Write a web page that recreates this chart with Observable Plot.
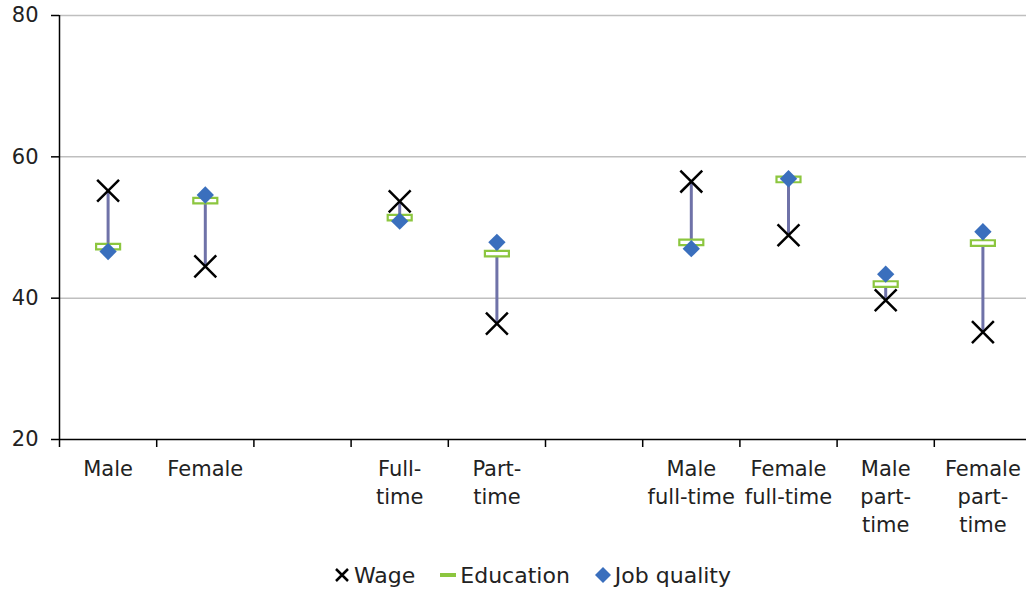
<!DOCTYPE html>
<html>
<head>
<meta charset="utf-8">
<script src="https://cdn.jsdelivr.net/npm/d3@7"></script>
<script src="https://cdn.jsdelivr.net/npm/@observablehq/plot@0.6"></script>
<style>
  html, body { margin: 0; padding: 0; background: #fff; overflow: hidden; }
  body { width: 1026px; font-family: "DejaVu Sans", Verdana, sans-serif; }
  #chart { width: 1026px; overflow: hidden; }
  #chart svg { display: block; max-width: none !important; width: 1031px; height: 555px; }
  #legend { display: flex; justify-content: center; align-items: center; gap: 24px; font-size: 22px; color: #222; height: 40px; margin-left: 38px; }
  #legend .item { display: flex; align-items: center; gap: 3px; }
  #legend svg { display: block; }
</style>
</head>
<body>
<div id="chart"></div>
<div id="legend"></div>
<script>
const categories = ["Male", "Female", "gap1", "Full-time", "Part-time", "gap2", "Male full-time", "Female full-time", "Male part-time", "Female part-time"];
const tickLabels = ["Male", "Female", "", "Full-\ntime", "Part-\ntime", "", "Male\nfull-time", "Female\nfull-time", "Male\npart-\ntime", "Female\npart-\ntime"];
const wage       = [55.2, 44.5, null, 53.7, 36.4, null, 56.5, 48.9, 39.7, 35.2];
const education  = [47.3, 53.8, null, 51.4, 46.3, null, 47.9, 56.8, 42.0, 47.8];
const jobQuality = [46.6, 54.6, null, 50.9, 47.9, null, 47.0, 56.9, 43.4, 49.4];
const yTicks = [20, 40, 60, 80];

const rows = categories.map((c, i) => ({
  category: c,
  pos: i + 0.5,
  wage: wage[i],
  education: education[i],
  jobQuality: jobQuality[i]
})).filter(d => d.wage != null);
rows.forEach(d => {
  d.lo = Math.min(d.wage, d.education, d.jobQuality);
  d.hi = Math.max(d.wage, d.education, d.jobQuality);
});

const colors = { wage: "#000000", education: "#8cc63f", job: "#3a6fbd", range: "#6f72a8", grid: "#bfbfbf" };

// hollow flat bar symbol for Education
const barSymbol = {
  draw(context, size) {
    const w = 12, h = 2.8;
    context.moveTo(-w, -h);
    context.lineTo(w, -h);
    context.lineTo(w, h);
    context.lineTo(-w, h);
    context.closePath();
  }
};

const centers = categories.map((c, i) => i + 0.5);
const bounds = d3.range(0, categories.length + 1);

const chart = Plot.plot({
  width: 1031,
  height: 555,
  marginLeft: 59,
  marginRight: 0,
  marginTop: 15,
  marginBottom: 116,
  style: { fontFamily: "DejaVu Sans, Verdana, sans-serif", fontSize: "21px", color: "#222" },
  x: { type: "linear", domain: [0, categories.length] },
  y: { domain: [20, 80] },
  marks: [
    Plot.gridY({ ticks: [40, 60, 80], stroke: colors.grid, strokeOpacity: 1, strokeWidth: 1.5 }),
    Plot.ruleX([0], { y1: 20, y2: 80, stroke: "#000", strokeWidth: 1.5 }),
    Plot.ruleY([20], { stroke: "#000", strokeWidth: 1.5 }),
    Plot.axisY({ ticks: yTicks, tickSize: 8, tickPadding: 13, fontSize: 21, stroke: "#000", strokeWidth: 1.5, label: null, fill: "#222" }),
    Plot.axisX({ ticks: bounds, tickSize: 8, tickFormat: () => "", stroke: "#000", strokeWidth: 1.5, label: null }),
    Plot.axisX({ ticks: centers, tickSize: 0, tickPadding: 17, tickFormat: v => tickLabels[Math.floor(v)], fontSize: 21, lineHeight: 1.33, label: null, fill: "#222" }),
    Plot.ruleX(rows, { x: "pos", y1: "lo", y2: "hi", stroke: colors.range, strokeWidth: 3 }),
    Plot.dot(rows, { x: "pos", y: "education", symbol: barSymbol, r: 5, fill: "#fff", stroke: colors.education, strokeWidth: 2.2 }),
    Plot.dot(rows, { x: "pos", y: "jobQuality", symbol: "diamond2", r: 7.8, fill: colors.job, stroke: "none" }),
    Plot.dot(rows, { x: "pos", y: "wage", symbol: "times", r: 10, stroke: colors.wage, strokeWidth: 2.5 })
  ]
});
document.getElementById("chart").appendChild(chart);

// legend
const legendItems = [
  { label: "Wage", draw: s => { s.append("path").attr("d", "M3,3L15,15M15,3L3,15").attr("stroke", colors.wage).attr("stroke-width", 2.5); } },
  { label: "Education", draw: s => { s.append("rect").attr("x", 1).attr("y", 7).attr("width", 16).attr("height", 4).attr("fill", colors.education); } },
  { label: "Job quality", draw: s => { s.append("path").attr("d", "M9,1L17,9L9,17L1,9Z").attr("fill", colors.job); } }
];
const legend = d3.select("#legend");
legendItems.forEach(it => {
  const item = legend.append("div").attr("class", "item");
  const svg = item.append("svg").attr("width", 18).attr("height", 18);
  it.draw(svg);
  item.append("span").text(it.label);
});
</script>
</body>
</html>
